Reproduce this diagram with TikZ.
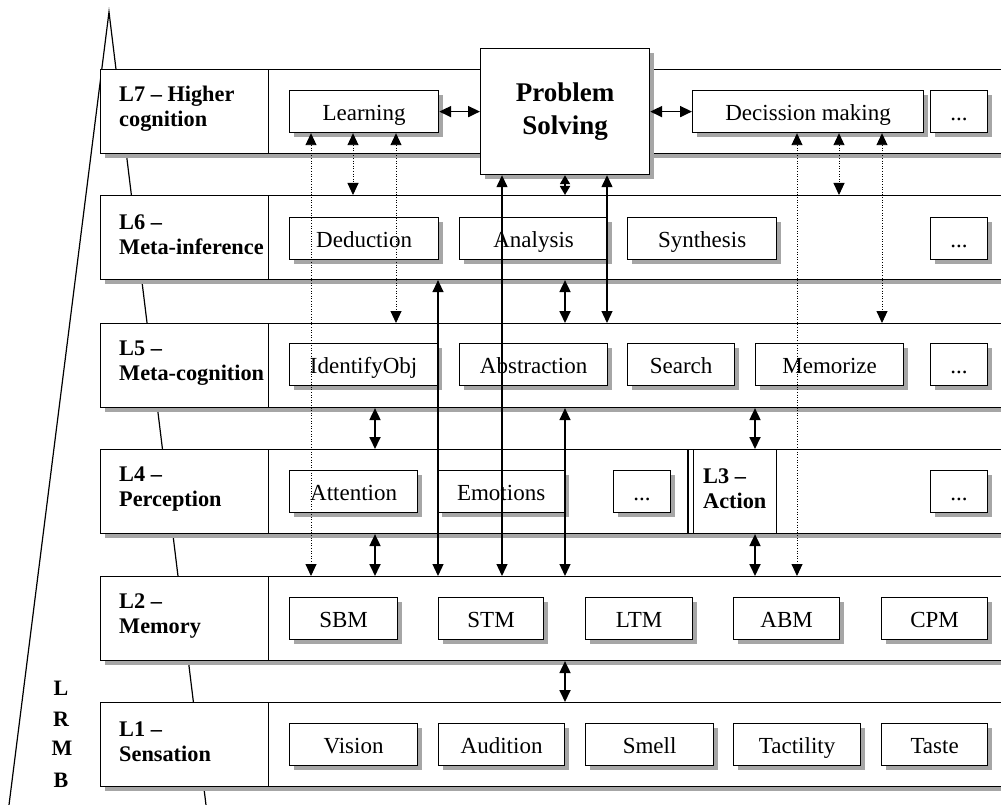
\documentclass[tikz,border=0pt]{standalone}
\usepackage{fontspec}
\setmainfont{Liberation Serif}
\usetikzlibrary{shadows,arrows.meta}
\begin{document}
\begin{tikzpicture}[x=1pt,y=-1pt,
  shd/.style={drop shadow={shadow xshift=4pt,shadow yshift=-4pt,fill=black!35,opacity=1}},
  rowbox/.style={draw,line width=1.1pt,fill=white,inner sep=0pt,anchor=north west,minimum height=84pt,minimum width=910pt,shd},
  cellbox/.style={draw,line width=1.1pt,fill=white,inner sep=0pt,anchor=north west,minimum height=84pt},
  lbl/.style={anchor=west,align=left,inner sep=0pt,font=\fontsize{22.3}{25}\selectfont\bfseries},
  lrmb/.style={font=\fontsize{22}{25}\selectfont\bfseries,inner sep=0pt},
  box/.style={draw,line width=1.2pt,fill=white,inner sep=0pt,anchor=north west,minimum height=42pt,text height=22pt,text depth=5pt,font=\fontsize{23}{26}\selectfont,shd},
  tipA/.tip={Triangle[length=12pt,width=11pt]},
  tipB/.tip={Triangle[length=9pt,width=10pt]},
  dbl/.style={tipA-tipA,line width=1.8pt},
  lng/.style={tipA-tipA,line width=1.3pt},
  dots/.style={tipA-tipA,line width=0.9pt,dash pattern=on 1pt off 1.6pt},
  tri/.style={line width=1.2pt}
]
\clip (0,0) rectangle (1001,805);
% pyramid
\coordinate (apex) at (109,12);
\coordinate (bl) at (9,805);
\coordinate (br) at (206,805);
\draw[tri] (bl) -- (apex) -- (br);
\node[lrmb] (lL) at (61,688) {L};
\node[lrmb] (lR) at (61,719) {R};
\node[lrmb] (lM) at (62,748) {M};
\node[lrmb] (lB) at (61,780) {B};

% rows
\node[rowbox] (r7) at (100,69) {};
\node[rowbox] (r6) at (100,195) {};
\node[rowbox] (r5) at (100,323) {};
\node[rowbox] (r4) at (100,449) {};
\node[rowbox] (r2) at (100,576) {};
\node[rowbox] (r1) at (100,702) {};
\node[cellbox,minimum width=168pt] (c7) at (100,69) {};
\node[cellbox,minimum width=168pt] (c6) at (100,195) {};
\node[cellbox,minimum width=168pt] (c5) at (100,323) {};
\node[cellbox,minimum width=168pt] (c4) at (100,449) {};
\node[cellbox,minimum width=168pt] (c2) at (100,576) {};
\node[cellbox,minimum width=168pt] (c1) at (100,702) {};
\node[lbl] (t7) at (119,109) {L7 -- Higher\\cognition};
\node[lbl] (t6) at (119,235) {L6 --\\Meta-inference};
\node[lbl] (t5) at (119,363) {L5 --\\Meta-cognition};
\node[lbl] (t4) at (119,489) {L4 --\\Perception};
\node[lbl] (t2) at (119,616) {L2 --\\Memory};
\node[lbl] (t1) at (119,742) {L1 --\\Sensation};
% L3 part
\coordinate (dl) at (688,0);
\draw[line width=1.1pt] (dl |- r4.north) -- (dl |- r4.south);
\node[cellbox,minimum width=83pt] (c3) at (693,449) {};
\node[lbl] (t3) at (703,489) {L3 --\\Action};

% L7 boxes
\node[box,minimum width=149pt] (learn) at (289,90) {Learning};
\node[box,minimum width=169pt,minimum height=126pt,text height=,text depth=,font=\fontsize{27}{33}\selectfont\bfseries,align=center] (ps) at (480,48) {Problem\\Solving};
\node[box,minimum width=231pt] (dec) at (692,90) {Decission making};
\node[box,minimum width=57pt] (d7) at (930,90) {...};
% L6
\node[box,minimum width=149pt] (ded) at (289,217) {Deduction};
\node[box,minimum width=148pt] (ana) at (459,217) {Analysis};
\node[box,minimum width=149pt] (syn) at (627,217) {Synthesis};
\node[box,minimum width=57pt] (d6) at (930,217) {...};
% L5
\node[box,minimum width=148pt] (idobj) at (289,343) {IdentifyObj};
\node[box,minimum width=148pt] (abs) at (459,343) {Abstraction};
\node[box,minimum width=107pt] (sea) at (627,343) {Search};
\node[box,minimum width=148pt] (mem) at (755,343) {Memorize};
\node[box,minimum width=57pt] (d5) at (930,343) {...};
% L4
\node[box,minimum width=128pt] (att) at (289,470) {Attention};
\node[box,minimum width=127pt] (emo) at (437,470) {Emotions};
\node[box,minimum width=57pt] (d4a) at (613,470) {...};
\node[box,minimum width=57pt] (d4b) at (930,470) {...};
% L2
\node[box,minimum width=108pt] (sbm) at (289,597) {SBM};
\node[box,minimum width=105pt] (stm) at (438,597) {STM};
\node[box,minimum width=107pt] (ltm) at (585,597) {LTM};
\node[box,minimum width=106pt] (abm) at (733,597) {ABM};
\node[box,minimum width=106pt] (cpm) at (881,597) {CPM};
% L1
\node[box,minimum width=128pt] (vis) at (289,723) {Vision};
\node[box,minimum width=126pt] (aud) at (438,723) {Audition};
\node[box,minimum width=128pt] (sme) at (585,723) {Smell};
\node[box,minimum width=127pt] (tac) at (733,723) {Tactility};
\node[box,minimum width=106pt] (tas) at (881,723) {Taste};

% columns
\coordinate (x311) at (311,0);
\coordinate (x353) at (353,0);
\coordinate (x375) at (375,0);
\coordinate (x396) at (396,0);
\coordinate (x438) at (438,0);
\coordinate (x502) at (502,0);
\coordinate (x565) at (565,0);
\coordinate (x607) at (607,0);
\coordinate (x755) at (755,0);
\coordinate (x797) at (797,0);
\coordinate (x839) at (839,0);
\coordinate (x882) at (882,0);

% horizontal
\draw[dbl] (learn.east) -- (ps.west |- learn.east);
\draw[dbl] (ps.east |- dec.west) -- (dec.west);
% dotted
\draw[dots] (x311 |- learn.south) -- (x311 |- r2.north);
\draw[dots] (x353 |- learn.south) -- (x353 |- r6.north);
\draw[dots] (x396 |- learn.south) -- (x396 |- r5.north);
\draw[dots] (x797 |- dec.south) -- (x797 |- r2.north);
\draw[dots] (x839 |- dec.south) -- (x839 |- r6.north);
\draw[dots] (x882 |- dec.south) -- (x882 |- r5.north);
% solid long
\draw[lng] (x438 |- r6.south) -- (x438 |- r2.north);
\draw[lng] (x502 |- ps.south) -- (x502 |- r2.north);
\draw[lng] (x607 |- ps.south) -- (x607 |- r5.north);
\draw[lng] (x565 |- r5.south) -- (x565 |- r2.north);
\draw[tipB-tipB,line width=1.8pt] (x565 |- ps.south) -- (x565 |- r6.north);
\draw[dbl] (x565 |- r6.south) -- (x565 |- r5.north);
\draw[dbl] (x375 |- r5.south) -- (x375 |- r4.north);
\draw[dbl] (x375 |- r4.south) -- (x375 |- r2.north);
\draw[dbl] (x755 |- r5.south) -- (x755 |- r4.north);
\draw[dbl] (x755 |- r4.south) -- (x755 |- r2.north);
\draw[dbl] (x565 |- r2.south) -- (x565 |- r1.north);
\end{tikzpicture}
\end{document}
